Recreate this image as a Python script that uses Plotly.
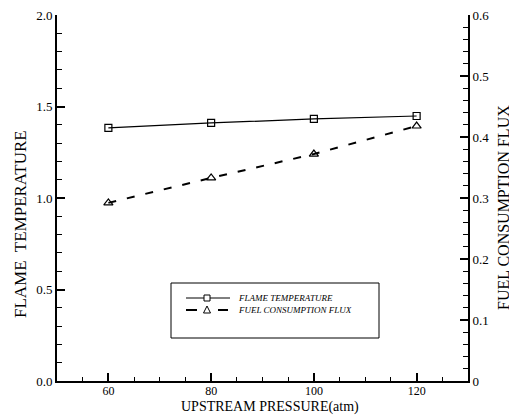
import plotly.graph_objects as go

pressure = [60, 80, 100, 120]
flame_temperature = [1.383, 1.41, 1.432, 1.448]
fuel_flux = [0.292, 0.333, 0.372, 0.418]

x_ticks = [60, 80, 100, 120]
y1_ticks = [0.0, 0.5, 1.0, 1.5, 2.0]
y1_labels = ["0.0", "0.5", "1.0", "1.5", "2.0"]
y2_ticks = [0, 0.1, 0.2, 0.3, 0.4, 0.5, 0.6]
y2_labels = ["0", "0.1", "0.2", "0.3", "0.4", "0.5", "0.6"]
series_names = ["FLAME TEMPERATURE", "FUEL CONSUMPTION FLUX"]

FONT = "Liberation Serif"

# plot-area geometry in page px (figure sits at the page's default 8px body margin)
PLOT_L, PLOT_R, PLOT_T, PLOT_B = 57, 468, 15, 381


def px(X):
    return (X - PLOT_L) / (PLOT_R - PLOT_L)


def py(Y):
    return (PLOT_B - Y) / (PLOT_B - PLOT_T)


fig = go.Figure()
fig.add_trace(go.Scatter(
    x=pressure, y=flame_temperature, name=series_names[0],
    mode="lines+markers",
    line=dict(color="black", width=1.2),
    marker=dict(symbol="square-open", size=7, color="black", line=dict(width=1.2)),
))
fig.add_trace(go.Scatter(
    x=pressure, y=fuel_flux, name=series_names[1], yaxis="y2",
    mode="lines+markers",
    line=dict(color="black", width=2, dash="8px,11px"),
    marker=dict(symbol="triangle-up-open", size=8, color="black", line=dict(width=1.2)),
))

axis_common = dict(
    showline=True, linecolor="black", linewidth=2, ticks="inside",
    tickcolor="black", tickwidth=1.5, ticklen=8, showgrid=False, zeroline=False,
    automargin=False, ticklabeloverflow="allow",
)

# custom compact legend (box, sample glyphs, labels)
shapes = [
    dict(type="rect", xref="paper", yref="paper",
         x0=px(171), x1=px(379), y0=py(338), y1=py(283),
         line=dict(color="black", width=1), fillcolor="rgba(0,0,0,0)"),
    dict(type="line", xref="paper", yref="paper",
         x0=px(186), x1=px(230), y0=py(298), y1=py(298),
         line=dict(color="black", width=1)),
    dict(type="rect", xref="paper", yref="paper",
         x0=px(204), x1=px(210), y0=py(301), y1=py(295),
         line=dict(color="black", width=1), fillcolor="white"),
    dict(type="line", xref="paper", yref="paper",
         x0=px(186), x1=px(197), y0=py(310), y1=py(310),
         line=dict(color="black", width=2)),
    dict(type="line", xref="paper", yref="paper",
         x0=px(218), x1=px(228), y0=py(310), y1=py(310),
         line=dict(color="black", width=2)),
    dict(type="path", xref="paper", yref="paper",
         path=f"M {px(203.5)} {py(313)} L {px(210.5)} {py(313)} L {px(207)} {py(306)} Z",
         line=dict(color="black", width=1), fillcolor="white"),
]

annotations = [
    dict(text=series_names[0], xref="paper", yref="paper",
         x=px(236), y=py(298), xanchor="left", yanchor="middle", showarrow=False,
         font=dict(family=FONT, size=9, color="black", style="italic")),
    dict(text=series_names[1], xref="paper", yref="paper",
         x=px(236), y=py(310), xanchor="left", yanchor="middle", showarrow=False,
         font=dict(family=FONT, size=9, color="black", style="italic")),
    dict(text="UPSTREAM PRESSURE(atm)", xref="paper", yref="paper",
         x=px(270), y=py(407), xanchor="center", yanchor="middle", showarrow=False,
         font=dict(family=FONT, size=14, color="black")),
    dict(text="FLAME  TEMPERATURE", xref="paper", yref="paper",
         x=px(20), y=py(224), xanchor="center", yanchor="middle", showarrow=False,
         textangle=-90, font=dict(family=FONT, size=17, color="black")),
    dict(text="FUEL CONSUMPTION FLUX", xref="paper", yref="paper",
         x=px(503), y=py(208), xanchor="center", yanchor="middle", showarrow=False,
         textangle=-90, font=dict(family=FONT, size=16, color="black")),
]

fig.update_layout(
    width=509, height=407,
    paper_bgcolor="white", plot_bgcolor="white",
    margin=dict(l=49, r=49, t=7, b=34),
    font=dict(family=FONT, color="black"),
    showlegend=False,
    xaxis=dict(
        range=[50, 130], tickvals=x_ticks,
        tickfont=dict(family=FONT, size=12, color="black"), ticklabelstandoff=-2,
        minor=dict(dtick=5, tick0=50, ticks="inside", ticklen=4, tickcolor="black", tickwidth=1),
        **axis_common,
    ),
    yaxis=dict(
        range=[0, 2.0], tickvals=y1_ticks, ticktext=y1_labels,
        tickfont=dict(family=FONT, size=13, color="black"),
        minor=dict(dtick=0.1, tick0=0, ticks="inside", ticklen=5, tickcolor="black", tickwidth=1),
        **axis_common,
    ),
    yaxis2=dict(
        range=[0, 0.6], tickvals=y2_ticks, ticktext=y2_labels,
        overlaying="y", side="right",
        tickfont=dict(family=FONT, size=13, color="black"),
        minor=dict(dtick=0.02, tick0=0, ticks="inside", ticklen=5, tickcolor="black", tickwidth=1),
        **axis_common,
    ),
    shapes=shapes,
    annotations=annotations,
)

fig.write_html("out.html")
